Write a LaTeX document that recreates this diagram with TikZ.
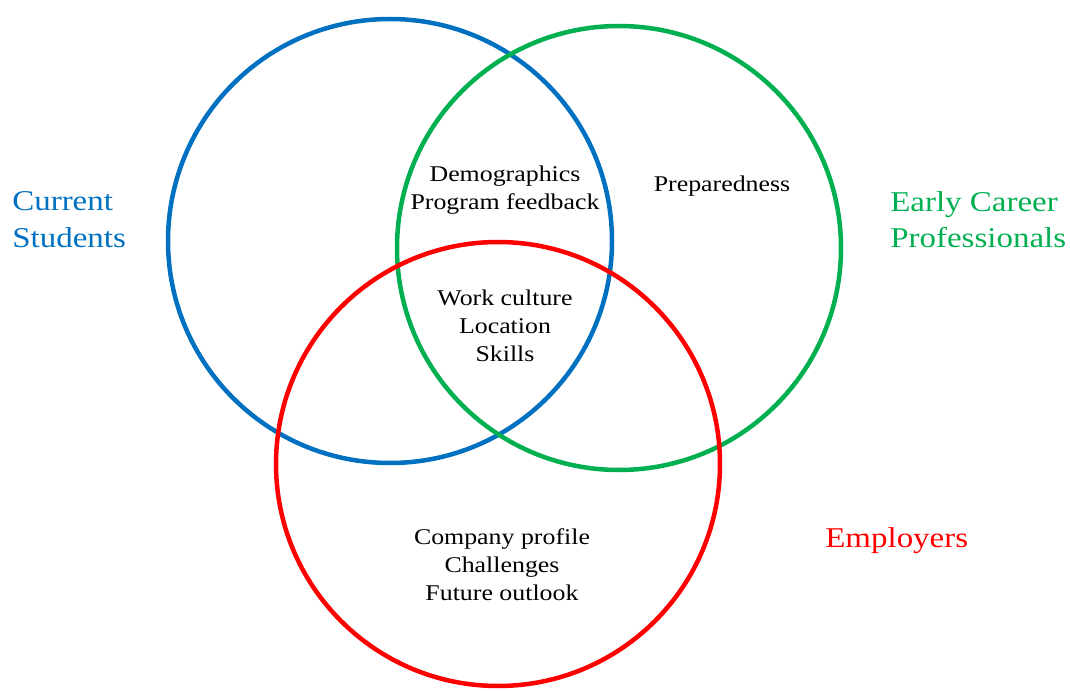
\documentclass[tikz,border=0pt]{standalone}
\usepackage{fontspec}
\setmainfont{Liberation Serif}[FakeStretch=1.15]
\definecolor{stublue}{HTML}{0070C0}
\definecolor{progreen}{HTML}{00B050}
\definecolor{empred}{HTML}{FF0000}
\tikzset{
  ring/.style={line width=3.2pt},
  group/.style={inner sep=0pt, align=left, font=\fontsize{20.4}{26}\selectfont},
  topic/.style={inner sep=0pt, align=center, font=\fontsize{16}{20}\selectfont}
}
\begin{document}
\begin{tikzpicture}
  \useasboundingbox (0,0) rectangle (26.75,17.25);

  % Three circles
  \draw[ring, stublue] (9.75,11.225) circle (5.55);
  \draw[ring, progreen] (15.475,11.05) circle (5.55);
  \draw[ring, empred] (12.45,5.65) circle (5.55);

  % Group labels
  \node[group, anchor=west, text=stublue] (students) at (0.3,11.76) {Current\\Students};
  \node[group, anchor=west, text=progreen] (professionals) at (22.25,11.76) {Early Career\\Professionals};
  \node[group, anchor=west, text=empred] (employers) at (20.625,3.725) {Employers};

  % Topics in each region
  \node[topic] (demo) at (12.625,12.5) {Demographics\\Program feedback};
  \node[topic] (prep) at (18.05,12.6) {Preparedness};
  \node[topic] (work) at (12.625,9.1) {Work culture\\Location\\Skills};
  \node[topic] (company) at (12.55,3.125) {Company profile\\Challenges\\Future outlook};
\end{tikzpicture}
\end{document}
